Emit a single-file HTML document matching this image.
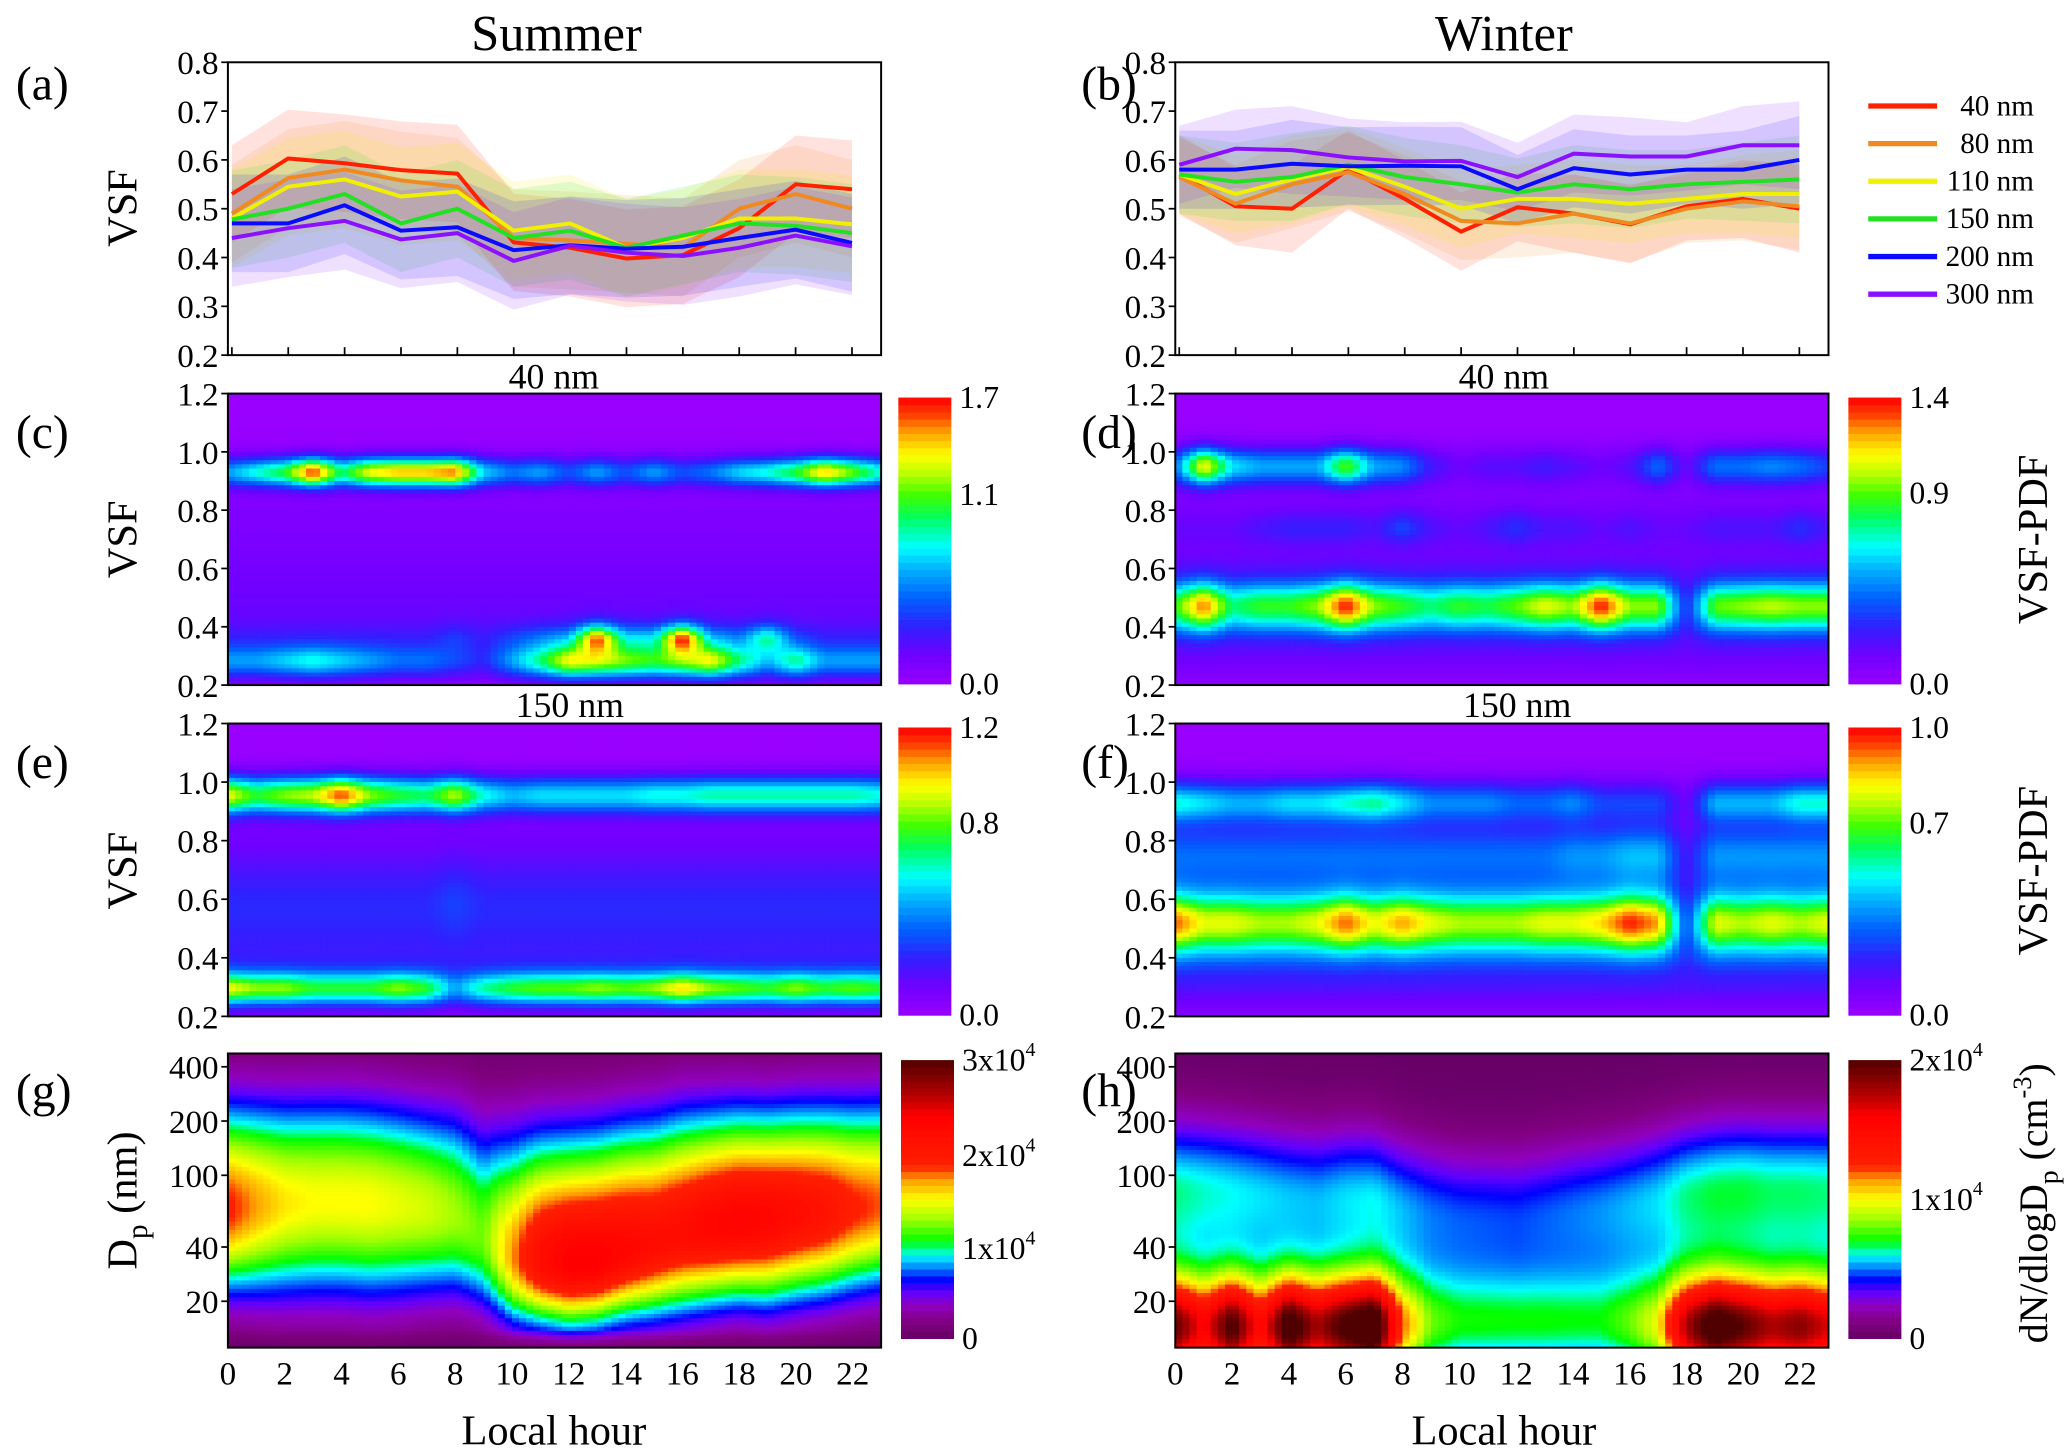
<!DOCTYPE html>
<html><head><meta charset="utf-8"><title>VSF diurnal figure</title>
<style>html,body{margin:0;padding:0;background:#fff;}svg{display:block;}svg text{font-family:"Liberation Serif",serif;}</style></head>
<body>
<svg id="fig" xmlns="http://www.w3.org/2000/svg" viewBox="0 0 1560 1095" width="2067" height="1451" preserveAspectRatio="none" fill="#000">
<text x="420" y="38" font-size="38" text-anchor="middle">Summer</text>
<text x="1135" y="38" font-size="38" text-anchor="middle">Winter</text>
<text x="12" y="75" font-size="36">(a)</text>
<text x="816" y="75" font-size="36">(b)</text>
<text x="12" y="338" font-size="36">(c)</text>
<text x="816" y="338" font-size="36">(d)</text>
<text x="12" y="587" font-size="36">(e)</text>
<text x="816" y="587" font-size="36">(f)</text>
<text x="12" y="835" font-size="36">(g)</text>
<text x="816" y="835" font-size="36">(h)</text>
<text transform="translate(103,157) rotate(-90)" font-size="32" text-anchor="middle">VSF</text>
<text transform="translate(103,407) rotate(-90)" font-size="32" text-anchor="middle">VSF</text>
<text transform="translate(103,657) rotate(-90)" font-size="32" text-anchor="middle">VSF</text>
<text transform="translate(103,906) rotate(-90)" font-size="32" text-anchor="middle">D<tspan font-size="22" dy="8">p</tspan><tspan dy="-8"> (nm)</tspan></text>
<text x="418" y="293" font-size="27" text-anchor="middle">40 nm</text>
<text x="1135" y="293" font-size="27" text-anchor="middle">40 nm</text>
<text x="430" y="541" font-size="27" text-anchor="middle">150 nm</text>
<text x="1145" y="541" font-size="27" text-anchor="middle">150 nm</text>
<text transform="translate(1545,407) rotate(-90)" font-size="32" text-anchor="middle">VSF-PDF</text>
<text transform="translate(1545,657) rotate(-90)" font-size="32" text-anchor="middle">VSF-PDF</text>
<text transform="translate(1545,908) rotate(-90)" font-size="30" text-anchor="middle">dN/dlogD<tspan font-size="21" dy="8">p</tspan><tspan dy="-8"> (cm</tspan><tspan font-size="20" dy="-12">-3</tspan><tspan dy="12">)</tspan></text>
<text x="418" y="1090" font-size="32" text-anchor="middle">Local hour</text>
<text x="1135" y="1090" font-size="32" text-anchor="middle">Local hour</text>
<g id="plots"></g>
</svg>
<script>
// ---------- data: panels (a)/(b) ----------
const hours12 = [0,2,4,6,8,10,12,14,16,18,20,22];
const sizeLabels = ['40 nm','80 nm','110 nm','150 nm','200 nm','300 nm'];
const sizeColors = ['#ff2000','#f08a20','#f0f000','#22e022','#0a0aff','#8a10ff'];
const summer40  = [0.53,0.603,0.593,0.579,0.572,0.431,0.42,0.398,0.405,0.46,0.55,0.54];
const summer80  = [0.49,0.563,0.58,0.558,0.545,0.44,0.435,0.428,0.42,0.50,0.53,0.50];
const summer110 = [0.48,0.545,0.56,0.525,0.535,0.455,0.47,0.42,0.44,0.48,0.48,0.468];
const summer150 = [0.478,0.50,0.53,0.47,0.50,0.44,0.455,0.42,0.445,0.47,0.465,0.45];
const summer200 = [0.47,0.47,0.507,0.455,0.462,0.415,0.425,0.418,0.422,0.44,0.457,0.43];
const summer300 = [0.44,0.46,0.475,0.437,0.45,0.393,0.424,0.41,0.403,0.42,0.445,0.423];
const winter40  = [0.57,0.505,0.50,0.58,0.52,0.453,0.503,0.49,0.468,0.505,0.52,0.50];
const winter80  = [0.565,0.51,0.55,0.575,0.53,0.475,0.47,0.49,0.47,0.50,0.515,0.505];
const winter110 = [0.57,0.53,0.56,0.585,0.545,0.50,0.52,0.52,0.51,0.52,0.53,0.53];
const winter150 = [0.57,0.555,0.565,0.59,0.565,0.55,0.533,0.55,0.54,0.55,0.555,0.56];
const winter200 = [0.58,0.58,0.592,0.587,0.588,0.587,0.54,0.583,0.57,0.58,0.58,0.60];
const winter300 = [0.59,0.623,0.62,0.605,0.597,0.598,0.565,0.613,0.607,0.607,0.63,0.63];
const summerSd = [0.10,0.10,0.10,0.10,0.10,0.10,0.10,0.10,0.10,0.10,0.10,0.10];
const winterSd = [0.08,0.08,0.09,0.08,0.08,0.08,0.07,0.08,0.08,0.07,0.08,0.09];
const yTicksVsfLine = [0.2,0.3,0.4,0.5,0.6,0.7,0.8];

// ---------- data: VSF-PDF heatmaps (per hour 0..23) ----------
const hours24 = [0,1,2,3,4,5,6,7,8,9,10,11,12,13,14,15,16,17,18,19,20,21,22,23];
const cUpper = [0.6,0.8,1.0,1.6,0.9,1.3,1.4,1.4,1.5,0.7,0.5,0.6,0.4,0.6,0.4,0.6,0.4,0.5,0.7,0.8,1.0,1.4,1.1,0.8];
const cLower = [0.5,0.5,0.6,0.7,0.6,0.5,0.4,0.4,0.3,0.2,0.5,0.8,1.2,1.1,1.0,0.9,1.0,1.2,0.8,0.5,0.8,0.5,0.5,0.5];
const cMid   = [0.1,0.1,0.1,0.1,0.1,0.1,0.1,0.1,0.2,0.1,0.2,0.3,0.4,1.3,0.5,0.5,1.4,0.4,0.3,0.7,0.2,0.1,0.1,0.1];
const dUpper = [0.4,1.1,0.6,0.5,0.5,0.5,0.9,0.5,0.45,0.2,0.1,0.15,0.15,0.2,0.15,0.1,0.15,0.4,0.1,0.4,0.4,0.45,0.4,0.3];
const dLower = [0.7,1.1,0.6,0.7,0.7,0.8,1.2,0.8,0.7,0.6,0.7,0.65,0.75,0.9,0.8,1.2,0.8,0.8,0.1,0.75,0.8,0.85,0.8,0.8];
const dMid   = [0.05,0.05,0.05,0.1,0.15,0.15,0.15,0.1,0.25,0.1,0.05,0.1,0.2,0.1,0.1,0.05,0.1,0.05,0.05,0.1,0.1,0.1,0.2,0.1];
const eUpper = [0.9,0.7,0.8,0.85,1.1,0.8,0.7,0.65,0.85,0.55,0.45,0.5,0.5,0.5,0.5,0.55,0.55,0.6,0.6,0.6,0.6,0.6,0.6,0.55];
const eLower = [0.8,0.7,0.7,0.6,0.6,0.6,0.7,0.6,0.3,0.5,0.6,0.65,0.65,0.7,0.65,0.7,0.85,0.7,0.65,0.6,0.7,0.6,0.65,0.6];
const eMid   = [0.1,0.1,0.1,0.1,0.1,0.1,0.1,0.1,0.15,0.1,0.1,0.1,0.1,0.1,0.1,0.1,0.1,0.1,0.1,0.1,0.1,0.1,0.1,0.1];
const fUpper = [0.45,0.4,0.35,0.35,0.4,0.4,0.45,0.5,0.4,0.3,0.3,0.3,0.25,0.25,0.3,0.2,0.2,0.2,0.05,0.35,0.35,0.35,0.45,0.45];
const fLower = [0.75,0.6,0.6,0.55,0.55,0.6,0.75,0.6,0.7,0.6,0.55,0.55,0.55,0.6,0.6,0.65,0.8,0.7,0.08,0.6,0.55,0.6,0.55,0.6];
const fMid   = [0.2,0.2,0.2,0.2,0.2,0.2,0.2,0.2,0.2,0.2,0.2,0.2,0.2,0.2,0.25,0.25,0.3,0.3,0.05,0.25,0.25,0.25,0.25,0.25];
const yTicksVsfMap = [0.2,0.4,0.6,0.8,1.0,1.2];

// ---------- data: size distributions (g)/(h), per hour 0..23 ----------
const gMode  = [65,68,70,72,72,70,68,65,60,45,35,33,32,33,38,42,48,52,55,57,60,62,65,68];
const gPeak  = [1.9,1.7,1.55,1.5,1.5,1.5,1.45,1.4,1.3,1.2,1.7,2.2,2.4,2.4,2.3,2.2,2.2,2.3,2.35,2.3,2.2,2.1,1.9,1.8];
const gSigma = [0.32,0.35,0.37,0.38,0.38,0.38,0.37,0.35,0.33,0.30,0.26,0.24,0.24,0.24,0.26,0.28,0.30,0.30,0.30,0.32,0.32,0.32,0.32,0.32];
const gSigmaUp = [0.40,0.40,0.40,0.40,0.40,0.40,0.40,0.40,0.42,0.45,0.47,0.47,0.47,0.47,0.46,0.45,0.44,0.42,0.41,0.40,0.40,0.40,0.40,0.40];
const hNuc   = [1.8,1.4,1.9,1.3,2.0,1.6,1.9,2.1,1.0,0.6,0.5,0.5,0.5,0.5,0.5,0.5,0.6,0.8,1.6,2.0,1.8,1.6,1.7,1.5];
const hAcc   = [0.65,0.62,0.60,0.58,0.56,0.55,0.58,0.60,0.55,0.50,0.48,0.47,0.46,0.48,0.50,0.52,0.55,0.58,0.65,0.68,0.68,0.66,0.66,0.65];
const hAccMode = [80,80,78,75,72,70,72,70,62,58,55,55,55,57,60,62,65,70,75,78,80,80,80,80];
const yTicksDp = [20,40,100,200,400];
const xTicksHour = [0,2,4,6,8,10,12,14,16,18,20,22];
const cbTicksC = ['1.7','1.1','0.0'], cbTicksD = ['1.4','0.9','0.0'], cbTicksE = ['1.2','0.8','0.0'], cbTicksF = ['1.0','0.7','0.0'];

// ---------- helpers ----------
const NS='http://www.w3.org/2000/svg';
const root=document.getElementById('plots');
function mk(tag,attrs,parent){const e=document.createElementNS(NS,tag);for(const k in attrs)e.setAttribute(k,attrs[k]);(parent||root).appendChild(e);return e;}
function interp(arr,h){if(h<=0)return arr[0];const n=arr.length-1;if(h>=n)return arr[n];const i=Math.floor(h),f=h-i;return arr[i]*(1-f)+arr[i+1]*f;}
function hexToRgb(h){return [parseInt(h.substr(1,2),16),parseInt(h.substr(3,2),16),parseInt(h.substr(5,2),16)];}
function cmapFn(stops){const s=stops.map(p=>[p[0],hexToRgb(p[1])]);return t=>{t=Math.max(0,Math.min(1,t));for(let i=1;i<s.length;i++){if(t<=s[i][0]){const a=s[i-1],b=s[i],f=(t-a[0])/(b[0]-a[0]||1);return 'rgb('+a[1].map((v,k)=>Math.round(v+(b[1][k]-v)*f)).join(',')+')';}}return 'rgb('+s[s.length-1][1].join(',')+')';};}
const pdfCmap=cmapFn([[0,'#9900ff'],[0.1,'#7000ff'],[0.2,'#3020ff'],[0.3,'#0060ff'],[0.4,'#00b0ff'],[0.48,'#00ffff'],[0.58,'#00ff60'],[0.66,'#40ff00'],[0.74,'#c0ff00'],[0.8,'#ffff00'],[0.88,'#ffa000'],[0.94,'#ff4000'],[1,'#ff0000']]);
const dnCmap=cmapFn([[0,'#660066'],[0.06,'#800080'],[0.12,'#9000c0'],[0.17,'#6000ff'],[0.21,'#0000ff'],[0.26,'#0090ff'],[0.3,'#00ffff'],[0.35,'#00ff00'],[0.43,'#a0ff00'],[0.5,'#ffff00'],[0.57,'#ffa000'],[0.62,'#ff2000'],[0.8,'#ff0000'],[0.88,'#b00000'],[1,'#500000']]);
function gauss(x,c,s){return Math.exp(-0.5*((x-c)/s)*((x-c)/s));}

const LX=[172,665], RX=[887,1380];
function xScale(px,h){return px[0]+h*(px[1]-px[0])/23;}

// ---------- line panels ----------
function linePanel(px,top,bottom,series,sd,name,legend){
  const g=mk('g',{});
  
  
  const y=v=>bottom-(v-0.2)/0.6*(bottom-top);
  const xs=h=>px[0]+3+h*(px[1]-px[0]-25)/22;
  series.forEach((s,si)=>{
    const up=s.map((v,i)=>xs(hours12[i]).toFixed(1)+','+y(v+sd[i]).toFixed(1));
    const dn=s.map((v,i)=>xs(hours12[i]).toFixed(1)+','+y(v-sd[i]).toFixed(1)).reverse();
    const band=mk('polygon',{points:up.concat(dn).join(' '),fill:sizeColors[si],'fill-opacity':0.13},g);
    
    
  });
  series.forEach((s,si)=>{
    const pl=mk('polyline',{points:s.map((v,i)=>xs(hours12[i]).toFixed(1)+','+y(v).toFixed(1)).join(' '),fill:'none',stroke:sizeColors[si],'stroke-width':3,'stroke-linejoin':'round'},g);
    
    
  });
  const fr=mk('rect',{x:px[0],y:top,width:px[1]-px[0],height:bottom-top,fill:'none',stroke:'#000','stroke-width':1.5},g);
  
  
  yTicksVsfLine.forEach(v=>{
    mk('line',{x1:px[0]-5,x2:px[0],y1:y(v),y2:y(v),stroke:'#000','stroke-width':1.3},g);
    const t=mk('text',{x:px[0]-7,y:y(v)+9,'font-size':25,'text-anchor':'end'},g);
    
    
    t.textContent=v.toFixed(1);
  });
  hours12.forEach(h=>{mk('line',{x1:xs(h),x2:xs(h),y1:bottom,y2:bottom-6,stroke:'#000','stroke-width':1.3},g);});
  if(legend){
    sizeLabels.forEach((lab,i)=>{
      const ly=80+i*28.4;
      const l=mk('line',{x1:1410,x2:1462,y1:ly,y2:ly,stroke:sizeColors[i],'stroke-width':4},g);
      
      
      const t=mk('text',{x:1535,y:ly+7,'font-size':22,'text-anchor':'end'},g);
      
      
      t.textContent=lab;
    });
  }
}
linePanel(LX,47,268,[summer40,summer80,summer110,summer150,summer200,summer300],summerSd,'panel-a-summer-vsf',false);
linePanel(RX,47,268,[winter40,winter80,winter110,winter150,winter200,winter300],winterSd,'panel-b-winter-vsf',true);

// ---------- heatmap panels ----------
function heatPanel(px,top,bottom,valFn,vmax,cmap,yFn,yInv,yTicks,yFmt,name){
  const g=mk('g',{});
  
  
  const nx=92, ny=70;
  const cw=(px[1]-px[0])/nx, ch=(bottom-top)/ny;
  for(let i=0;i<nx;i++){
    const h=(i+0.5)*23/nx;
    for(let j=0;j<ny;j++){
      const yy=top+(j+0.5)*ch;
      const v=valFn(h,yInv(yy));
      const r=mk('rect',{x:(px[0]+i*cw).toFixed(2),y:(top+j*ch).toFixed(2),width:(cw+0.6).toFixed(2),height:(ch+0.6).toFixed(2),fill:cmap(v/vmax)},g);
      
      
    }
  }
  const fr=mk('rect',{x:px[0],y:top,width:px[1]-px[0],height:bottom-top,fill:'none',stroke:'#000','stroke-width':1.5},g);
  
  
  yTicks.forEach(v=>{
    mk('line',{x1:px[0]-5,x2:px[0],y1:yFn(v),y2:yFn(v),stroke:'#000','stroke-width':1.3},g);
    const t=mk('text',{x:px[0]-7,y:yFn(v)+9,'font-size':25,'text-anchor':'end'},g);
    
    
    t.textContent=yFmt(v);
  });
  return g;
}
function colorbar(x,top,bottom,cmap,labels,labelYs,name,sup){
  const g=mk('g',{});
  
  
  const n=40;
  for(let k=0;k<n;k++){
    const r=mk('rect',{x:x,y:(bottom-(k+1)*(bottom-top)/n).toFixed(2),width:40,height:((bottom-top)/n+0.5).toFixed(2),fill:cmap((k+0.5)/n)},g);
    
    
  }
  labels.forEach((lab,i)=>{
    const t=mk('text',{x:x+46,y:labelYs[i]+8,'font-size':24},g);
    
    
    if(sup&&lab!=='0'){t.textContent=lab;const s=mk('tspan',{'font-size':15,dy:-11},t);s.textContent='4';}
    else t.textContent=lab;
  });
}
function vsfY(top,bottom){return v=>bottom-(v-0.2)/1.0*(bottom-top);}
function vsfInv(top,bottom){return y=>0.2+(bottom-y)/(bottom-top);}
const bgLevels=[0.05,0.15,0.2,0.18,0.15,0.12,0.1,0.05,0.03,0.0,0.0];
function pdfField(up,lo,mid,uc,us,lc,ls,mc,ms){
  return (h,v)=>interp(bgLevels,(v-0.2)*10)+interp(up,h)*gauss(v,uc,us)+interp(lo,h)*gauss(v,lc,ls)+interp(mid,h)*gauss(v,mc,ms);
}
heatPanel(LX,297,517,pdfField(cUpper,cLower,cMid,0.93,0.035,0.28,0.04,0.36,0.035),1.7,pdfCmap,vsfY(297,517),vsfInv(297,517),yTicksVsfMap,v=>v.toFixed(1),'panel-c-heatmap');
colorbar(678,300,516,pdfCmap,cbTicksC,[300,373,516],'colorbar-c');
heatPanel(RX,297,517,pdfField(dUpper,dLower,dMid,0.95,0.045,0.47,0.06,0.74,0.04),1.4,pdfCmap,vsfY(297,517),vsfInv(297,517),yTicksVsfMap,v=>v.toFixed(1),'panel-d-heatmap');
colorbar(1395,300,516,pdfCmap,cbTicksD,[300,372,516],'colorbar-d');
heatPanel(LX,546,767,pdfField(eUpper,eLower,eMid,0.955,0.045,0.295,0.04,0.6,0.1),1.2,pdfCmap,vsfY(546,767),vsfInv(546,767),yTicksVsfMap,v=>v.toFixed(1),'panel-e-heatmap');
colorbar(678,549,766,pdfCmap,cbTicksE,[549,621,766],'colorbar-e');
heatPanel(RX,546,767,pdfField(fUpper,fLower,fMid,0.93,0.05,0.52,0.075,0.75,0.07),1.0,pdfCmap,vsfY(546,767),vsfInv(546,767),yTicksVsfMap,v=>v.toFixed(1),'panel-f-heatmap');
colorbar(1395,549,766,pdfCmap,cbTicksF,[549,621,766],'colorbar-f');

// size distributions
const dpY=d=>982-(Math.log10(d)-Math.log10(20))*136;
const dpInv=y=>Math.pow(10,Math.log10(20)+(982-y)/136);
const gField=(h,d)=>{const ld=Math.log10(d),lm=Math.log10(interp(gMode,h));const s=ld>lm?interp(gSigmaUp,h):interp(gSigma,h);return interp(gPeak,h)*gauss(ld,lm,s)*Math.min(1,Math.max(0.15,(d-9)/5));};
const hField=(h,d)=>{const ld=Math.log10(d),lm=Math.log10(interp(hAccMode,h));return interp(hNuc,h)*gauss(ld,Math.log10(14),0.2)+interp(hAcc,h)*gauss(ld,lm,ld>lm?0.3:0.45);};
const gPanel=heatPanel(LX,795,1017,gField,3.0,dnCmap,dpY,dpInv,yTicksDp,v=>String(v),'panel-g-size-distribution');
colorbar(680,800,1010,dnCmap,['3x10','2x10','1x10','0'],[800,872,942,1010],'colorbar-g',true);
const hPanel=heatPanel(RX,795,1017,hField,2.0,dnCmap,dpY,dpInv,yTicksDp,v=>String(v),'panel-h-size-distribution');
colorbar(1395,800,1010,dnCmap,['2x10','1x10','0'],[800,905,1010],'colorbar-h',true);
[[LX,gPanel],[RX,hPanel]].forEach(([px,g])=>{
  xTicksHour.forEach(h=>{
    const t=mk('text',{x:xScale(px,h),y:1045,'font-size':25,'text-anchor':'middle'},g);
    
    
    t.textContent=String(h);
  });
});
</script>
</body></html>
